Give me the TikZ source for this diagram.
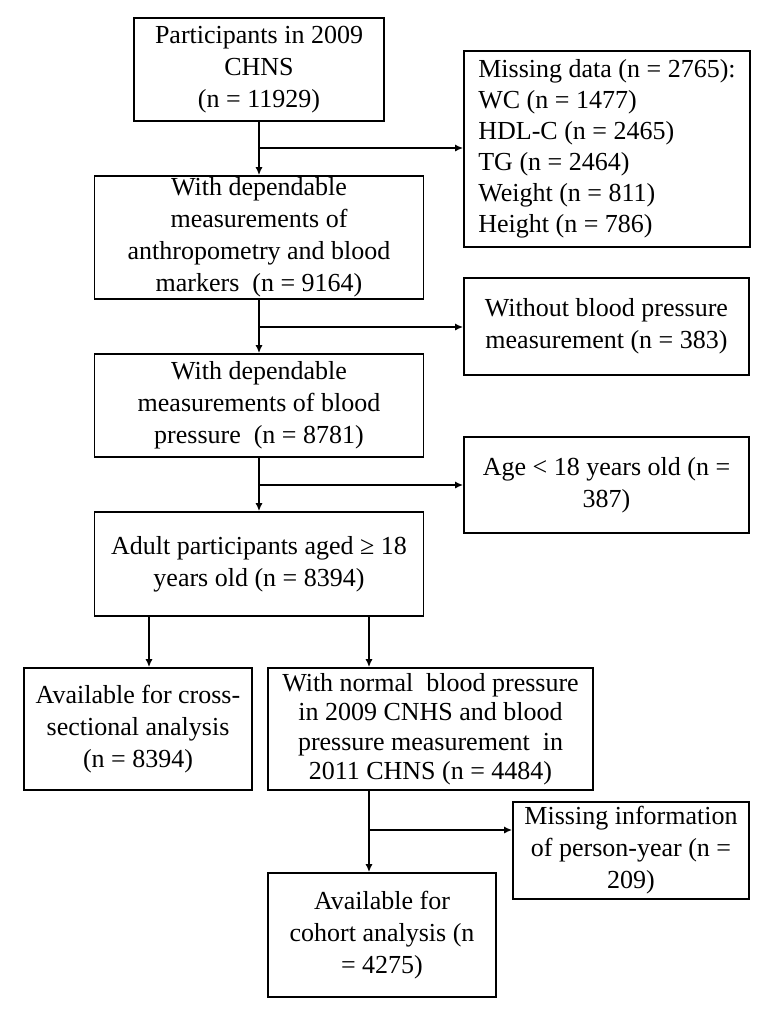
\documentclass[tikz,border=0pt]{standalone}
\usepackage{fontspec}
\setmainfont{Liberation Serif}
\usetikzlibrary{arrows.meta,calc,positioning}
\tikzset{>={Latex[length=8pt,width=7pt]}}
\tikzset{
  box/.style={draw, line width=1.6pt, align=center, inner sep=1pt,
    font=\fontsize{26}{32}\selectfont},
  flow/.style={->, line width=1.6pt},
}

\begin{document}
\begin{tikzpicture}[x=1pt,y=-1pt]
  \useasboundingbox (0,0) rectangle (775,1010);

  % Main column
  \node[box, minimum width=250pt, minimum height=103pt] (part) at (259,69.5)
    {Participants in 2009\\CHNS\\(n = 11929)};
  \node[box, minimum width=329pt, minimum height=123pt] (anthro) at (259,237.5)
    {With dependable\\measurements of\\anthropometry and blood\\markers~ (n = 9164)};
  \node[box, minimum width=329pt, minimum height=103pt] (bp) at (259,405.5)
    {With dependable\\measurements of blood\\pressure~ (n = 8781)};
  \node[box, minimum width=329pt, minimum height=104pt] (adult) at (259,564)
    {Adult participants aged ≥ 18\\years old (n = 8394)};

  % Exclusions
  \node[box, align=left, minimum width=286pt, minimum height=196pt,
    font=\fontsize{26}{31}\selectfont] (missing) at (607,149)
    {Missing data (n = 2765):\\WC (n = 1477)\\HDL-C (n = 2465)\\TG (n = 2464)\\Weight (n = 811)\\Height (n = 786)};
  \node[box, minimum width=285pt, minimum height=97pt] (nobp) at (606.5,326.5)
    {Without blood pressure\\measurement (n = 383)};
  \node[box, minimum width=285pt, minimum height=96pt] (age) at (606.5,485)
    {Age < 18 years old (n =\\387)};

  % Lower part
  \node[box, minimum width=228pt, minimum height=122pt] (cross) at (138,729)
    {Available for cross-\\sectional analysis\\(n = 8394)};
  \node[box, minimum width=325pt, minimum height=122pt, inner sep=0pt,
    font=\fontsize{26}{29.5}\selectfont] (normal) at (430.5,729)
    {With normal~ blood pressure\\in 2009 CNHS and blood\\pressure measurement~ in\\2011 CHNS (n = 4484)};
  \node[box, minimum width=236pt, minimum height=97pt] (missinfo) at (631,850.5)
    {Missing information\\of person-year (n =\\209)};
  \node[box, minimum width=228pt, minimum height=124pt] (cohort) at (382,935)
    {Available for\\cohort analysis (n\\= 4275)};

  % Split points
  \coordinate (s1) at (259,148);
  \coordinate (s2) at (259,327);
  \coordinate (s3) at (259,485);
  \coordinate (s4) at (369,830);
  \coordinate (l) at (149,0);
  \coordinate (r) at (369,0);

  % Lines
  \draw[flow] (part.south) -- (anthro.north);
  \draw[flow] (s1) -- (s1 -| missing.west);
  \draw[flow] (anthro.south) -- (bp.north);
  \draw[flow] (s2) -- (s2 -| nobp.west);
  \draw[flow] (bp.south) -- (adult.north);
  \draw[flow] (s3) -- (s3 -| age.west);
  \draw[flow] (adult.south -| l) -- (cross.north -| l);
  \draw[flow] (adult.south -| r) -- (normal.north -| r);
  \draw[flow] (normal.south -| r) -- (cohort.north -| r);
  \draw[flow] (s4) -- (s4 -| missinfo.west);
\end{tikzpicture}
\end{document}
